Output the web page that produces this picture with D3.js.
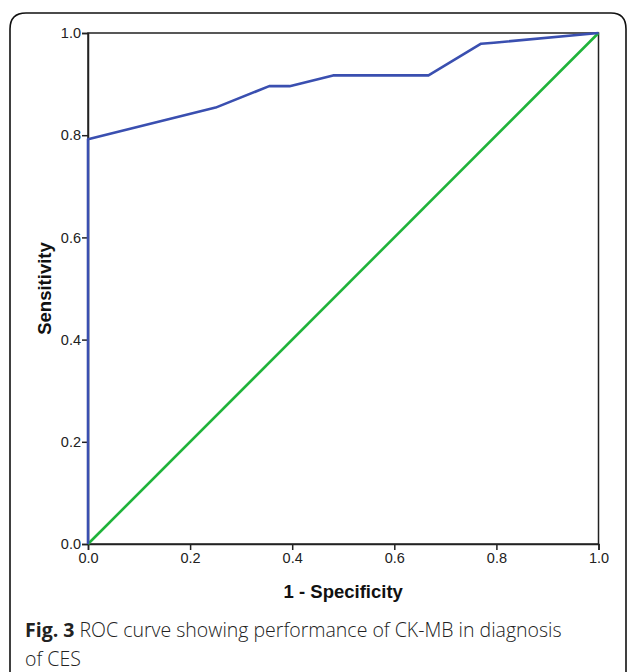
<!DOCTYPE html>
<html><head><meta charset="utf-8">
<script src="https://cdn.jsdelivr.net/npm/d3@7"></script>
<style>body{margin:0;background:#fff}svg{display:block}</style>
</head><body>
<svg id="c" width="627" height="672"></svg>
<script>
const rocX = [0, 0, 0.25, 0.355, 0.395, 0.48, 0.667, 0.77, 0.795, 1];
const rocY = [0, 0.792, 0.854, 0.896, 0.896, 0.917, 0.917, 0.979, 0.981, 1];
const refX = [0, 1];
const refY = [0, 1];
const ticks = [0, 0.2, 0.4, 0.6, 0.8, 1.0];
const xTitle = "1 - Specificity";
const yTitle = "Sensitivity";
const capBold = "Fig. 3";
const capLine1 = " ROC curve showing performance of CK-MB in diagnosis";
const capLine2 = "of CES";

const svg = d3.select("#c");
const L = 88, R = 598.5, T = 33, B = 544;
const x = d3.scaleLinear().domain([0,1]).range([L,R]);
const y = d3.scaleLinear().domain([0,1]).range([B,T]);

// frame
svg.append("path")
  .attr("d","M10,700 V29 Q10,13 26,13 H611 Q626,13 626,29 V700")
  .attr("fill","none").attr("stroke","#111").attr("stroke-width",1.6);

// plot box
svg.append("rect").attr("x",L).attr("y",T).attr("width",R-L).attr("height",B-T)
  .attr("fill","none").attr("stroke","#222").attr("stroke-width",1.5);

const fmt = d3.format(".1f");
const xa = svg.append("g").attr("transform",`translate(0,${B})`)
  .call(d3.axisBottom(x).tickValues(ticks).tickFormat(fmt).tickSize(6).tickPadding(3));
const ya = svg.append("g").attr("transform",`translate(${L},0)`)
  .call(d3.axisLeft(y).tickValues(ticks).tickFormat(fmt).tickSize(6).tickPadding(1));
[xa,ya].forEach(g=>{
  g.attr("font-family","Liberation Sans, Arial, sans-serif").attr("font-size",14.5);
  g.select(".domain").attr("stroke","#222").attr("stroke-width",1.5);
  g.selectAll(".tick line").attr("stroke","#222").attr("stroke-width",1.5);
  g.selectAll("text").style("font-size","14.5px").style("font-family","Liberation Sans, Arial, sans-serif")
    .attr("fill","#222");
});

const line = d3.line().x(d=>x(d[0])).y(d=>y(d[1]));
svg.append("path").datum(refX.map((v,i)=>[v,refY[i]])).attr("d",line)
  .attr("fill","none").attr("stroke","#1fb33a").attr("stroke-width",2.6);
svg.append("path").datum(rocX.map((v,i)=>[v,rocY[i]])).attr("d",line)
  .attr("fill","none").attr("stroke","#3a4fb0").attr("stroke-width",2.6)
  .attr("stroke-linejoin","round");

svg.append("text").attr("x",(L+R)/2).attr("y",598).attr("text-anchor","middle")
  .attr("font-family","Liberation Sans, Arial, sans-serif").attr("font-weight","bold")
  .style("font-size","18.5px").attr("fill","#111").text(xTitle);
svg.append("text").attr("transform",`translate(51,${(T+B)/2}) rotate(-90)`).attr("text-anchor","middle")
  .attr("font-family","Liberation Sans, Arial, sans-serif").attr("font-weight","bold")
  .style("font-size","18.5px").attr("fill","#111").text(yTitle);

const cap = svg.append("text").attr("x",25).attr("y",637)
  .attr("font-family","Open Sans, Noto Sans, sans-serif").style("font-size","19.5px").attr("fill","#222");
cap.append("tspan").attr("font-weight","bold").text(capBold);
cap.append("tspan").attr("font-weight","300").text(capLine1);
svg.append("text").attr("x",25).attr("y",666)
  .attr("font-family","Open Sans, Noto Sans, sans-serif").style("font-size","19.5px").attr("fill","#222")
  .attr("font-weight","300").text(capLine2);
</script>
</body></html>
